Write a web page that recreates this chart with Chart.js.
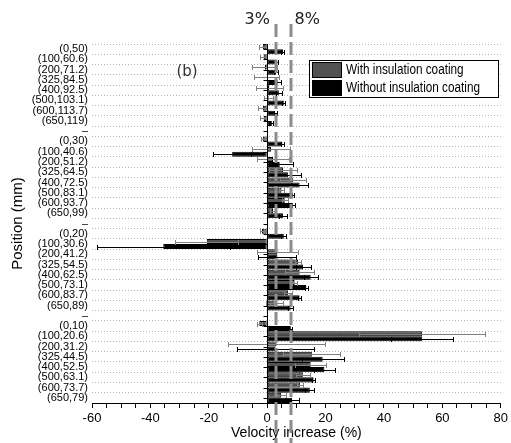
<!DOCTYPE html>
<html>
<head>
<meta charset="utf-8">
<script src="https://cdn.jsdelivr.net/npm/chart.js@4.4.0/dist/chart.umd.min.js"></script>
<style>
  html, body { margin: 0; padding: 0; background: #fff; }
</style>
</head>
<body>
<canvas id="chart" width="511" height="443"></canvas>
<script>
// positions (mm) - groups separated by a blank row
const labels = [
  '(0,50)', '(100,60.6)', '(200,71.2)', '(325,84.5)', '(400,92.5)', '(500,103.1)', '(600,113.7)', '(650,119)', '–',
  '(0,30)', '(100,40.6)', '(200,51.2)', '(325,64.5)', '(400,72.5)', '(500,83.1)', '(600,93.7)', '(650,99)', '–',
  '(0,20)', '(100,30.6)', '(200,41.2)', '(325,54.5)', '(400,62.5)', '(500,73.1)', '(600,83.7)', '(650,89)', '–',
  '(0,10)', '(100,20.6)', '(200,31.2)', '(325,44.5)', '(400,52.5)', '(500,63.1)', '(600,73.7)', '(650,79)'
];

// velocity increase (%)
const withCoating = [
  -1.5, -1.2, -0.8, -0.2, 0.7, 0.5, -1.5, -1.2, null,
  -1.4, 1.3, 2.0, 5.4, 8.8, 4.9, 6.0, 2.0, null,
  -1.8, -20.7, 3.5, 10.6, 11.1, 9.4, 7.1, 2.5, null,
  -2.7, 53, 3.2, 15.3, 14.9, 12.2, 11.2, 4.8
];
const withCoatingErr = [
  1.2, 1.3, 4.3, 4.2, 4.7, 1.5, 1.5, 1.3, null,
  0.8, 6.4, 5.5, 4.9, 4.5, 1.0, 1.0, 1.0, null,
  0.8, 10.8, 7.0, 1.0, 5.0, 0.9, 1.4, 2.9, null,
  0.8, 21.5, 16.5, 9.8, 5.4, 2.4, 1.0, 1.7
];
const withoutCoating = [
  5.4, 3.4, 3.1, 3.6, 4.0, 5.7, 2.7, 1.6, null,
  5.2, -12.0, 4.3, 7.1, 11.1, 8.8, 8.8, 5.4, null,
  5.7, -35.6, 3.5, 12.3, 14.9, 13.4, 11.1, 8.0, null,
  8.1, 53, 2.8, 19.0, 19.6, 15.9, 14.6, 8.5
];
const withoutCoatingErr = [
  0.5, 0.4, 0.6, 1.1, 1.1, 0.5, 0.5, 0.5, null,
  0.5, 6.6, 4.5, 4.5, 3.0, 0.5, 0.8, 1.5, null,
  0.8, 22.7, 6.5, 2.6, 2.4, 0.5, 0.5, 0.8, null,
  0.5, 10.7, 13.3, 7.2, 3.6, 0.5, 1.6, 2.5
];

const refLines = [3, 8];
const xTicks = [-60, -40, -20, 0, 20, 40, 60, 80];

const sans = "'Liberation Sans', Arial, sans-serif";
const GRAY = '#525252';

Chart.defaults.font.family = sans;
Chart.defaults.color = '#000';

const extras = {
  id: 'extras',
  afterDatasetsDraw(chart) {
    const ctx = chart.ctx, xs = chart.scales.x, ys = chart.scales.y, area = chart.chartArea;
    // error bars
    [withCoatingErr, withoutCoatingErr].forEach((errs, di) => {
      const meta = chart.getDatasetMeta(di);
      const vals = chart.data.datasets[di].data;
      ctx.save();
      ctx.strokeStyle = di === 0 ? '#808080' : '#000';
      ctx.lineWidth = 1;
      meta.data.forEach((bar, i) => {
        if (vals[i] == null) return;
        const x1 = Math.round(xs.getPixelForValue(vals[i] - errs[i])) + 0.5;
        const x2 = Math.round(xs.getPixelForValue(vals[i] + errs[i])) + 0.5;
        const y = Math.round(bar.y) + 0.5;
        ctx.beginPath();
        ctx.moveTo(x1, y); ctx.lineTo(x2, y);
        ctx.moveTo(x1, y - 2.5); ctx.lineTo(x1, y + 2.5);
        ctx.moveTo(x2, y - 2.5); ctx.lineTo(x2, y + 2.5);
        ctx.stroke();
      });
      ctx.restore();
    });
    // y axis drawn at zero with ticks to the left
    const x0 = Math.round(xs.getPixelForValue(0)) + 0.5;
    ctx.save();
    ctx.strokeStyle = '#000';
    ctx.lineWidth = 1;
    ctx.beginPath();
    ctx.moveTo(x0, area.top); ctx.lineTo(x0, area.bottom);
    labels.forEach((l, i) => {
      const y = Math.round(ys.getPixelForValue(i)) + 0.5;
      ctx.moveTo(x0 - 4, y); ctx.lineTo(x0, y);
    });
    ctx.stroke();
    ctx.restore();
  },
  afterDraw(chart) {
    const ctx = chart.ctx, xs = chart.scales.x;
    ctx.save();
    // dashed reference lines
    ctx.strokeStyle = '#8c8c8c';
    ctx.lineWidth = 3;
    ctx.setLineDash([13, 5]);
    refLines.forEach(v => {
      const x = Math.round(xs.getPixelForValue(v));
      ctx.beginPath();
      ctx.moveTo(x, 24); ctx.lineTo(x, 443);
      ctx.stroke();
    });
    ctx.setLineDash([]);
    ctx.fillStyle = '#222';
    ctx.font = "16px 'DejaVu Sans', sans-serif";
    ctx.textBaseline = 'middle';
    ctx.textAlign = 'right';
    ctx.fillText(refLines[0] + '%', xs.getPixelForValue(refLines[0]) - 6, 20);
    ctx.textAlign = 'left';
    ctx.fillText(refLines[1] + '%', xs.getPixelForValue(refLines[1]) + 4, 20);

    // (b)
    ctx.textAlign = 'center';
    ctx.font = "15px 'DejaVu Sans', sans-serif";
    ctx.fillStyle = '#333';
    ctx.fillText('(b)', 187, 72);

    // legend box
    ctx.fillStyle = '#fff';
    ctx.fillRect(309, 60, 189, 37);
    ctx.strokeStyle = '#000';
    ctx.lineWidth = 1;
    ctx.strokeRect(309.5, 60.5, 189, 37);
    const items = [
      { text: chart.data.datasets[0].label, color: GRAY, y: 62 },
      { text: chart.data.datasets[1].label, color: '#000', y: 80 }
    ];
    ctx.font = '14px ' + sans;
    ctx.textAlign = 'left';
    items.forEach(it => {
      ctx.fillStyle = it.color;
      ctx.fillRect(312, it.y, 29, 15);
      ctx.strokeRect(312.5, it.y + 0.5, 29, 15);
      // condensed text, like the narrow face of the original
      ctx.save();
      ctx.translate(346, it.y + 8);
      ctx.scale(0.84, 1);
      ctx.fillStyle = '#000';
      ctx.fillText(it.text, 0, 0);
      ctx.restore();
    });
    ctx.restore();
  }
};

new Chart(document.getElementById('chart'), {
  type: 'bar',
  data: {
    labels: labels,
    datasets: [{
      label: 'With insulation coating',
      data: withCoating,
      backgroundColor: GRAY,
      borderColor: '#000',
      borderWidth: 1,
      borderSkipped: false,
      barPercentage: 1,
      categoryPercentage: 0.98
    }, {
      label: 'Without insulation coating',
      data: withoutCoating,
      backgroundColor: '#000',
      borderColor: '#000',
      borderWidth: 1,
      borderSkipped: false,
      barPercentage: 1,
      categoryPercentage: 0.98
    }]
  },
  options: {
    responsive: false,
    animation: false,
    indexAxis: 'y',
    layout: { padding: { top: 44, right: 6, left: 0, bottom: 0 } },
    plugins: { legend: { display: false }, tooltip: { enabled: false } },
    scales: {
      x: {
        min: -60, max: 80,
        ticks: {
          stepSize: 5, autoSkip: false, maxRotation: 0, padding: 3,
          font: { size: 13 },
          callback: v => xTicks.includes(v) ? String(v) : ''
        },
        grid: { drawOnChartArea: false, color: '#000', tickLength: 5 },
        border: { color: '#000' },
        title: {
          display: true, text: 'Velocity increase (%)',
          font: { size: 14 }, padding: { top: 0, bottom: 1 }
        },
        afterFit: s => { s.height = 40; }
      },
      y: {
        ticks: { autoSkip: false, padding: 4, font: { size: 11 } },
        grid: { color: '#b5b5b5', drawTicks: false },
        border: { display: false, dash: [1, 2] },
        title: {
          display: true, text: 'Position (mm)',
          font: { size: 15 }, padding: { top: 9, bottom: 0 }
        },
        afterFit: s => { s.width = 92; }
      }
    }
  },
  plugins: [extras]
});
</script>
</body>
</html>
